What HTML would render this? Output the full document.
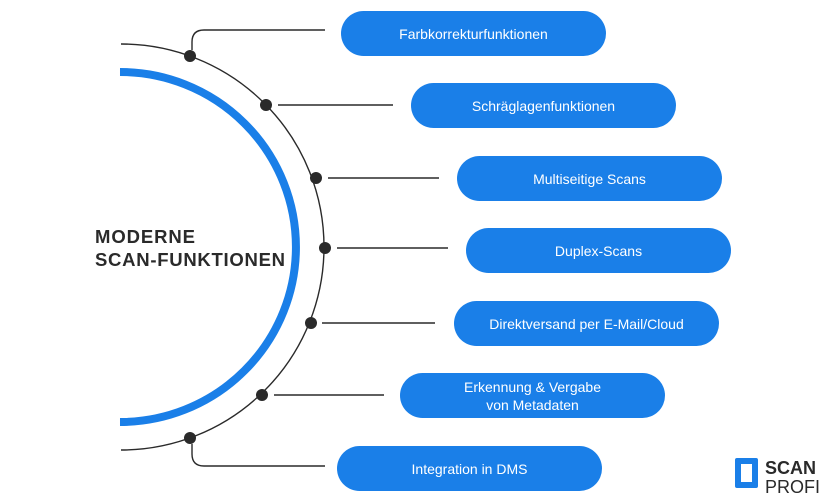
<!DOCTYPE html>
<html><head><meta charset="utf-8"><style>
body{margin:0;background:#fff;width:825px;height:500px;overflow:hidden;position:relative;font-family:"Liberation Sans",sans-serif}
.p{position:absolute;width:265px;height:45px;border-radius:23px;background:#1a7fe8;color:#fff;font-size:14px;display:flex;align-items:center;justify-content:center;text-align:center;line-height:18px}
</style></head><body>
<svg width="825" height="500" style="position:absolute;left:0;top:0">
<path d="M121 44 A203 203 0 0 1 121 450" fill="none" stroke="#2a2a2a" stroke-width="1.4"/>
<path d="M120 72 A176 175 0 0 1 120 422" fill="none" stroke="#1a7fe8" stroke-width="8"/>
<g stroke="#2a2a2a" stroke-width="1.4" fill="none">
<path d="M192 50 V42 Q192 30 204 30 H325"/>
<path d="M192 444 V454 Q192 466 204 466 H325"/>
<path d="M278 105 H393"/>
<path d="M328 178 H439"/>
<path d="M337 248 H448"/>
<path d="M322 323 H435"/>
<path d="M274 395 H384"/>
</g>
<g fill="#2a2a2a">
<circle cx="190" cy="56" r="6"/><circle cx="266" cy="105" r="6"/><circle cx="316" cy="178" r="6"/>
<circle cx="325" cy="248" r="6"/><circle cx="311" cy="323" r="6"/><circle cx="262" cy="395" r="6"/><circle cx="190" cy="438" r="6"/>
</g>
<text x="95" y="243" font-family="Liberation Sans" font-weight="bold" font-size="18.5" fill="#2a2a2a" textLength="100">MODERNE</text>
<text x="95" y="266" font-family="Liberation Sans" font-weight="bold" font-size="18.5" fill="#2a2a2a" textLength="190">SCAN-FUNKTIONEN</text>
<rect x="735" y="458" width="23" height="30" rx="2" fill="#1a7fe8"/>
<rect x="741" y="464" width="11" height="18" fill="#fff"/>
<text x="765" y="474" font-family="Liberation Sans" font-weight="bold" font-size="18" fill="#2a2a2a">SCAN</text>
<text x="765" y="493" font-family="Liberation Sans" font-size="18" fill="#2a2a2a">PROFI</text>
</svg>
<div class="p" style="left:341px;top:11px">Farbkorrekturfunktionen</div>
<div class="p" style="left:411px;top:83px">Schräglagenfunktionen</div>
<div class="p" style="left:457px;top:156px">Multiseitige Scans</div>
<div class="p" style="left:466px;top:228px">Duplex-Scans</div>
<div class="p" style="left:454px;top:301px">Direktversand per E-Mail/Cloud</div>
<div class="p" style="left:400px;top:373px">Erkennung &amp; Vergabe<br>von Metadaten</div>
<div class="p" style="left:337px;top:446px">Integration in DMS</div>
</body></html>
